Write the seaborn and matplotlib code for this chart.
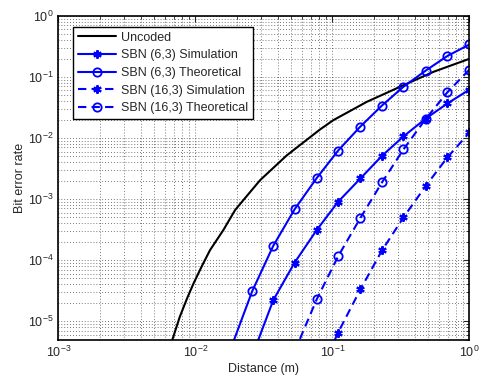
import numpy as np
import pandas as pd
import matplotlib
matplotlib.use('Agg')
import matplotlib.pyplot as plt
import seaborn as sns

sns.set_style('white')
plt.rcParams['font.family'] = ['Liberation Sans', 'DejaVu Sans']
plt.rcParams['mathtext.default'] = 'regular'

# distances (m) where the coded curves were evaluated
dist = [1.0, 0.69, 0.48, 0.33, 0.23, 0.16, 0.11, 0.077, 0.053, 0.037, 0.026, 0.018]

sbn6_sim = [0.062, 0.0367, 0.0208, 0.0106, 0.0051, 0.00217, 9.0e-4, 3.13e-4, 9.1e-5, 2.2e-5, 2.7e-6, 3e-7]
sbn6_theo = [0.34, 0.22, 0.127, 0.069, 0.034, 0.0154, 0.0062, 0.00222, 6.8e-4, 1.71e-4, 3.1e-5, 3.4e-6]
sbn16_sim = [0.0123, 0.0048, 0.00164, 5.0e-4, 1.44e-4, 3.3e-5, 6.5e-6, 1.1e-6]
sbn16_theo = [0.132, 0.056, 0.0206, 0.0065, 0.00187, 4.9e-4, 1.15e-4, 2.3e-5, 3.2e-6]

uncoded_x = [0.0068, 0.0077, 0.0087, 0.0097, 0.0111, 0.0128, 0.016, 0.0195, 0.0224,
             0.0297, 0.0465, 0.0813, 0.1017, 0.178, 0.312, 0.546, 1.0]
uncoded_y = [5.0e-6, 1.18e-5, 2.36e-5, 4.15e-5, 7.8e-5, 1.46e-4, 3.1e-4, 6.6e-4, 9.6e-4,
             2.04e-3, 5.2e-3, 1.38e-2, 1.96e-2, 3.9e-2, 6.9e-2, 0.121, 0.198]

fig = plt.figure(figsize=(4.82, 3.77), dpi=100)
ax = fig.add_axes([0.121, 0.098, 0.853, 0.860])
ax.set_xscale('log')
ax.set_yscale('log')

blue = '#0000ff'
dash = (0, (4, 2.5))
star = (6, 2, 0)

sns.lineplot(x=uncoded_x, y=uncoded_y, ax=ax, color='k', lw=1.5, label='Uncoded')
sns.lineplot(x=dist[:len(sbn6_sim)], y=sbn6_sim, ax=ax, color=blue, lw=1.5,
             marker=star, markersize=6, markeredgewidth=1.5, markeredgecolor=blue,
             label='SBN (6,3) Simulation')
sns.lineplot(x=dist[:len(sbn6_theo)], y=sbn6_theo, ax=ax, color=blue, lw=1.5,
             marker='o', markersize=6, markerfacecolor='none', markeredgewidth=1.3,
             markeredgecolor=blue, label='SBN (6,3) Theoretical')
sns.lineplot(x=dist[:len(sbn16_sim)], y=sbn16_sim, ax=ax, color=blue, lw=1.5,
             linestyle=dash, marker=star, markersize=6, markeredgewidth=1.5,
             markeredgecolor=blue, label='SBN (16,3) Simulation')
sns.lineplot(x=dist[:len(sbn16_theo)], y=sbn16_theo, ax=ax, color=blue, lw=1.5,
             linestyle=dash, marker='o', markersize=6, markerfacecolor='none',
             markeredgewidth=1.3, markeredgecolor=blue, label='SBN (16,3) Theoretical')

ax.set_xlim(1e-3, 1)
ax.set_ylim(4.9e-6, 1)
ax.grid(which='both', linestyle=(0, (1, 2.5)), color='k', lw=0.6, alpha=0.7)
ax.tick_params(which='both', direction='in', top=True, right=True, labelsize=9)
ax.tick_params(which='major', length=4, width=0.8)
ax.tick_params(which='minor', length=2, width=0.6)
for s in ax.spines.values():
    s.set_color('k')
    s.set_linewidth(1.2)
ax.set_xlabel('Distance (m)', fontsize=9, labelpad=2)
ax.set_ylabel('Bit error rate', fontsize=9, labelpad=1)

leg = ax.legend(loc='upper left', bbox_to_anchor=(0.036, 0.966), borderaxespad=0,
                fontsize=9, fancybox=False, framealpha=1, edgecolor='k',
                handlelength=3, handletextpad=0.4, labelspacing=0.45, borderpad=0.4)
leg.get_frame().set_linewidth(1.0)

plt.savefig('out.png', dpi=100)
plt.close(fig)
